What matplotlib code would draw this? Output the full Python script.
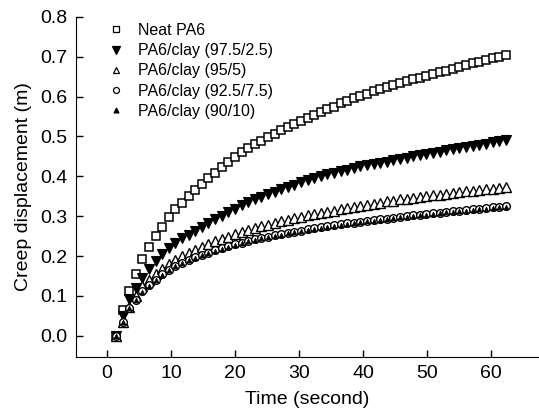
import numpy as np
import matplotlib
matplotlib.use('Agg')
import matplotlib.pyplot as plt

plt.rcParams['font.family'] = ['Liberation Sans', 'DejaVu Sans']

# sampling times (s)
time = np.linspace(1.4, 62.3, 60)

neat_pa6 = [0.000, 0.065, 0.113, 0.155, 0.192, 0.224, 0.250, 0.274, 0.297, 0.317,
            0.334, 0.351, 0.366, 0.381, 0.395, 0.409, 0.423, 0.436, 0.448, 0.460,
            0.470, 0.480, 0.489, 0.498, 0.507, 0.516, 0.524, 0.531, 0.539, 0.547,
            0.554, 0.561, 0.568, 0.575, 0.583, 0.590, 0.596, 0.602, 0.607, 0.613,
            0.618, 0.623, 0.628, 0.633, 0.638, 0.643, 0.647, 0.652, 0.656, 0.661,
            0.665, 0.670, 0.674, 0.679, 0.683, 0.687, 0.692, 0.696, 0.700, 0.705]

clay_97 = [0.000, 0.050, 0.092, 0.120, 0.144, 0.167, 0.188, 0.206, 0.220, 0.232,
           0.245, 0.254, 0.263, 0.274, 0.283, 0.292, 0.301, 0.310, 0.319, 0.328,
           0.335, 0.342, 0.349, 0.355, 0.361, 0.367, 0.373, 0.379, 0.385, 0.390,
           0.395, 0.400, 0.405, 0.409, 0.413, 0.417, 0.421, 0.425, 0.428, 0.431,
           0.434, 0.437, 0.441, 0.444, 0.447, 0.450, 0.453, 0.456, 0.459, 0.462,
           0.465, 0.468, 0.471, 0.474, 0.477, 0.479, 0.482, 0.485, 0.488, 0.490]

clay_95 = [0.000, 0.036, 0.073, 0.099, 0.125, 0.140, 0.154, 0.167, 0.179, 0.190,
           0.199, 0.208, 0.216, 0.224, 0.231, 0.237, 0.243, 0.249, 0.255, 0.260,
           0.265, 0.270, 0.275, 0.279, 0.283, 0.287, 0.291, 0.295, 0.299, 0.302,
           0.305, 0.308, 0.311, 0.314, 0.317, 0.320, 0.323, 0.326, 0.329, 0.331,
           0.334, 0.337, 0.339, 0.342, 0.344, 0.346, 0.348, 0.350, 0.352, 0.354,
           0.356, 0.358, 0.360, 0.362, 0.364, 0.366, 0.368, 0.369, 0.371, 0.373]

clay_92 = [0.000, 0.035, 0.070, 0.090, 0.112, 0.127, 0.141, 0.154, 0.165, 0.175,
           0.183, 0.190, 0.197, 0.203, 0.209, 0.215, 0.220, 0.225, 0.230, 0.234,
           0.238, 0.242, 0.246, 0.249, 0.252, 0.255, 0.258, 0.261, 0.264, 0.267,
           0.270, 0.272, 0.275, 0.277, 0.280, 0.282, 0.284, 0.286, 0.288, 0.290,
           0.292, 0.294, 0.296, 0.298, 0.300, 0.302, 0.304, 0.305, 0.307, 0.309,
           0.311, 0.312, 0.314, 0.315, 0.317, 0.319, 0.320, 0.322, 0.323, 0.325]

clay_90 = [0.000, 0.034, 0.069, 0.089, 0.111, 0.126, 0.140, 0.153, 0.164, 0.174,
           0.182, 0.189, 0.196, 0.202, 0.208, 0.214, 0.219, 0.224, 0.229, 0.233,
           0.237, 0.241, 0.245, 0.248, 0.251, 0.254, 0.257, 0.260, 0.263, 0.266,
           0.269, 0.271, 0.274, 0.276, 0.279, 0.281, 0.283, 0.285, 0.287, 0.289,
           0.291, 0.293, 0.295, 0.297, 0.299, 0.301, 0.303, 0.304, 0.306, 0.308,
           0.310, 0.311, 0.313, 0.314, 0.316, 0.318, 0.319, 0.321, 0.322, 0.324]

labels = ['Neat PA6', 'PA6/clay (97.5/2.5)', 'PA6/clay (95/5)',
          'PA6/clay (92.5/7.5)', 'PA6/clay (90/10)']

fig = plt.figure(figsize=(5.39, 4.2), dpi=100)
ax = fig.add_axes([0.141, 0.15, 0.859, 0.81])

ax.plot(time, neat_pa6, ls='none', marker='s', ms=5.5, mfc='white', mec='black', mew=1.1, label=labels[0])
ax.plot(time, clay_97, ls='none', marker='v', ms=7, mfc='black', mec='black', mew=0.8, label=labels[1])
ax.plot(time, clay_95, ls='none', marker='^', ms=7, mfc='white', mec='black', mew=1.0, label=labels[2])
ax.plot(time, clay_92, ls='none', marker='o', ms=5.5, mfc='white', mec='black', mew=1.0, label=labels[3])
ax.plot(time, clay_90, ls='none', marker='^', ms=3.5, mfc='black', mec='black', mew=0.5, label=labels[4])

ax.set_xlim(-4.85, 67.5)
ax.set_ylim(-0.053, 0.8)
ax.set_xticks(np.arange(0, 61, 10))
ax.set_yticks(np.arange(0, 0.81, 0.1))
ax.set_yticklabels(['%.1f' % v for v in np.arange(0, 0.81, 0.1)])
ax.spines['top'].set_visible(False)
ax.spines['right'].set_visible(False)
ax.spines['left'].set_bounds(-0.053, 0.8)
ax.tick_params(direction='in', length=5, width=1, labelsize=14, pad=6)
ax.set_xlabel('Time (second)', fontsize=14, labelpad=6)
ax.set_ylabel('Creep displacement (m)', fontsize=14, labelpad=6)

leg = ax.legend(loc='upper left', bbox_to_anchor=(0.045, 1.015), frameon=False,
                fontsize=11.5, handletextpad=0.85,
                labelspacing=0.33, handlelength=1.0, borderpad=0.2)
# legend symbols are drawn at their own sizes
for h, s in zip(leg.legend_handles, [4.3, 5.5, 4.8, 4.3, 3.5]):
    h.set_markersize(s)
    h.set_markeredgewidth(0.9)

fig.savefig('out.png', dpi=100)
